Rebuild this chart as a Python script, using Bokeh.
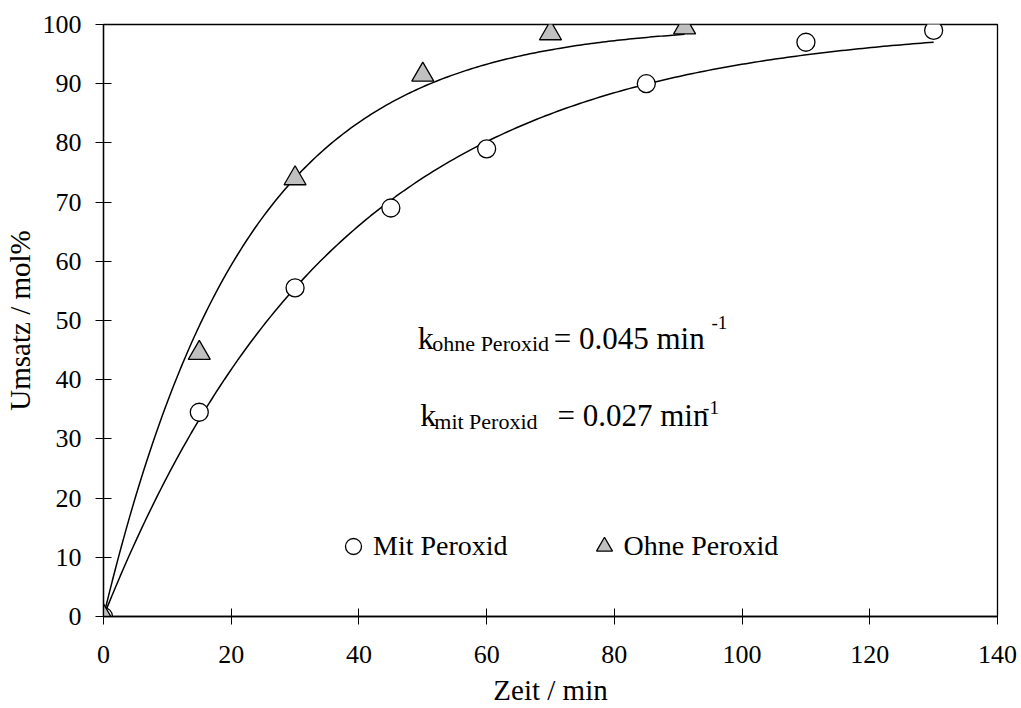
import numpy as np
from bokeh.plotting import figure
from bokeh.models import Range1d, Label, Legend, LegendItem, FixedTicker
from bokeh.embed import file_html
from bokeh.resources import INLINE

# measured data
t_mit = [0, 15, 30, 45, 60, 85, 110, 130]
u_mit = [0, 34.5, 55.5, 69, 79, 90, 97, 99]
t_ohne = [0, 15, 30, 50, 70, 91]
u_ohne = [0, 44.5, 74, 91.5, 98.5, 99.5]

# first-order fit constants shown in the chart (min^-1)
k_ohne = 0.045
k_mit = 0.027

x_ticks = [0, 20, 40, 60, 80, 100, 120, 140]
y_ticks = [0, 10, 20, 30, 40, 50, 60, 70, 80, 90, 100]

FONT = "Liberation Serif"

p = figure(width=1021, height=708, output_backend="svg", toolbar_location=None,
           x_range=Range1d(0, 140), y_range=Range1d(0, 100),
           min_border_left=103, min_border_right=24, min_border_top=24, min_border_bottom=92)
p.grid.visible = False
p.background_fill_color = "white"
p.border_fill_color = "white"
p.outline_line_color = "black"
p.outline_line_width = 1.3

for ax in (p.xaxis[0], p.yaxis[0]):
    ax.axis_line_color = "black"
    ax.axis_line_width = 1.3
    ax.major_tick_line_color = "black"
    ax.major_tick_line_width = 1
    ax.major_tick_in = 8
    ax.major_tick_out = 8
    ax.minor_tick_line_color = None
    ax.major_label_text_font = FONT
    ax.major_label_text_font_size = "26px"
    ax.major_label_text_color = "black"
    ax.axis_label_text_font = FONT
    ax.axis_label_text_font_size = "29px"
    ax.axis_label_text_font_style = "normal"
    ax.axis_label_text_color = "black"

p.xaxis.ticker = FixedTicker(ticks=x_ticks)
p.yaxis.ticker = FixedTicker(ticks=y_ticks)
p.xaxis.axis_label = "Zeit / min"
p.yaxis.axis_label = "Umsatz / mol%"
p.xaxis.major_label_standoff = 21
p.yaxis.major_label_standoff = 14
p.xaxis.axis_label_standoff = 8
p.xaxis.axis_label_text_line_height = 0.75
p.yaxis.axis_label_standoff = 4

# fitted curves U = 100 (1 - exp(-k t))
tf_ohne = np.linspace(0, max(t_ohne), 200)
tf_mit = np.linspace(0, max(t_mit), 200)
p.line(tf_ohne, 100 * (1 - np.exp(-k_ohne * tf_ohne)), line_color="black", line_width=1.5)
p.line(tf_mit, 100 * (1 - np.exp(-k_mit * tf_mit)), line_color="black", line_width=1.5)

r_mit = p.scatter(t_mit, u_mit, marker="circle", size=18, fill_color="white",
                  line_color="black", line_width=1.3)
r_ohne = p.scatter(t_ohne, u_ohne, marker="triangle", size=22, fill_color="#c0c0c0",
                   line_color="black", line_width=1.3)

legend = Legend(items=[LegendItem(label="Mit Peroxid", renderers=[r_mit]),
                       LegendItem(label="Ohne Peroxid", renderers=[r_ohne])],
                orientation="horizontal", location=(230, 50),
                glyph_width=40, glyph_height=40, label_standoff=0, spacing=76,
                padding=0, margin=0, border_line_color=None, background_fill_alpha=0,
                label_text_font=FONT, label_text_font_size="28px", label_text_color="black",
                label_text_baseline="middle")
p.add_layout(legend, "center")

def lab(x, y, text, size):
    p.add_layout(Label(x=x, y=y, text=text, text_font=FONT, text_font_size=size,
                       text_color="black", text_baseline="alphabetic"))

lab(49.2, 47.0, "k", "32px")
lab(51.5, 46.1, "ohne Peroxid", "22px")
lab(70.5, 47.0, "= 0.045 min", "31px")
lab(95.2, 49.7, "-1", "19px")

lab(49.6, 34.0, "k", "32px")
lab(51.8, 32.9, "mit Peroxid", "22px")
lab(71.1, 34.0, "= 0.027 min", "31px")
lab(93.9, 35.3, "-1", "19px")

open("out.html", "w").write(file_html(p, INLINE))
